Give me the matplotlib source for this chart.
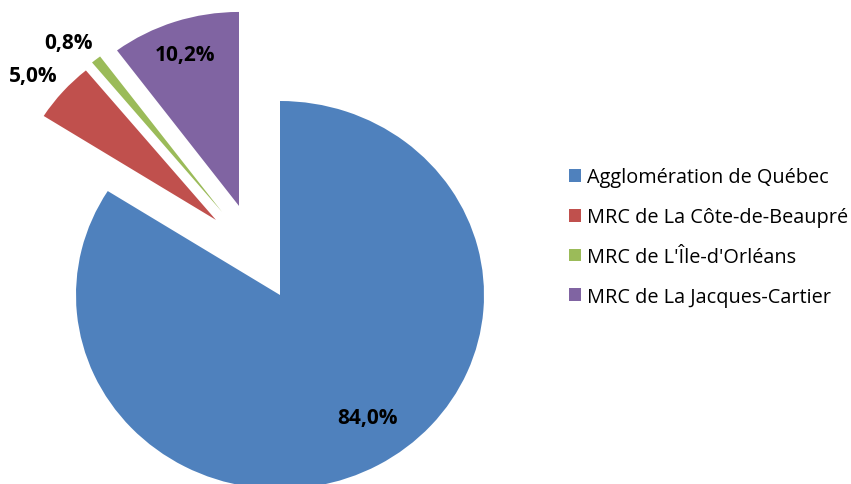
import matplotlib
matplotlib.use("Agg")
import matplotlib.pyplot as plt
from matplotlib.patches import Patch

# share of the total, by territory
territories = [
    "Agglomération de Québec",
    "MRC de La Côte-de-Beaupré",
    "MRC de L'Île-d'Orléans",
    "MRC de La Jacques-Cartier",
]
shares = [84.0, 5.0, 0.8, 10.2]
colors = ["#4F81BD", "#C0504D", "#9BBB59", "#8064A2"]

# pulled-out slices: shift of each wedge's apex, in pie-radius units
slice_shift = [(0, 0), (-0.314, 0.387), (-0.284, 0.428), (-0.201, 0.459)]

# where each percentage label sits, in pie-radius units from the centre
label_pos = [(0.431, -0.629), (-1.208, 1.134), (-1.039, 1.302), (-0.466, 1.242)]

W, H, DPI = 851, 485, 100
RX_PX, RY_PX = 204, 194   # pie is drawn slightly wider than tall
CX, CY = 280, 296         # pie centre, pixels from top-left

fig = plt.figure(figsize=(W / DPI, H / DPI), dpi=DPI)
ax = fig.add_axes([0, 0, 1, 1])
ax.axis("off")

wedges, _ = ax.pie(shares, colors=colors, startangle=90,
                   counterclock=False, radius=1,
                   wedgeprops=dict(linewidth=0))
for w, (dx, dy) in zip(wedges, slice_shift):
    w.set_center((dx, dy))

ax.set_xlim(-CX / RX_PX, (W - CX) / RX_PX)
ax.set_ylim(-(H - CY) / RY_PX, CY / RY_PX)
ax.set_aspect("auto")

for val, (x, y) in zip(shares, label_pos):
    txt = f"{val:.1f}%".replace(".", ",")
    ax.text(x, y, txt, ha="center", va="center", fontsize=15,
            fontweight="bold", family="Open Sans", color="#000000")

handles = [Patch(facecolor=c, edgecolor="none") for c in colors]
fig.legend(handles, territories, loc="center left",
           bbox_to_anchor=(569 / W, 1 - 238 / H),
           frameon=False, borderpad=0, borderaxespad=0,
           handlelength=0.62, handleheight=0.62, handletextpad=0.3,
           labelspacing=1.0,
           prop={"family": "Open Sans", "size": 14.3})

fig.savefig("out.png", dpi=DPI)
